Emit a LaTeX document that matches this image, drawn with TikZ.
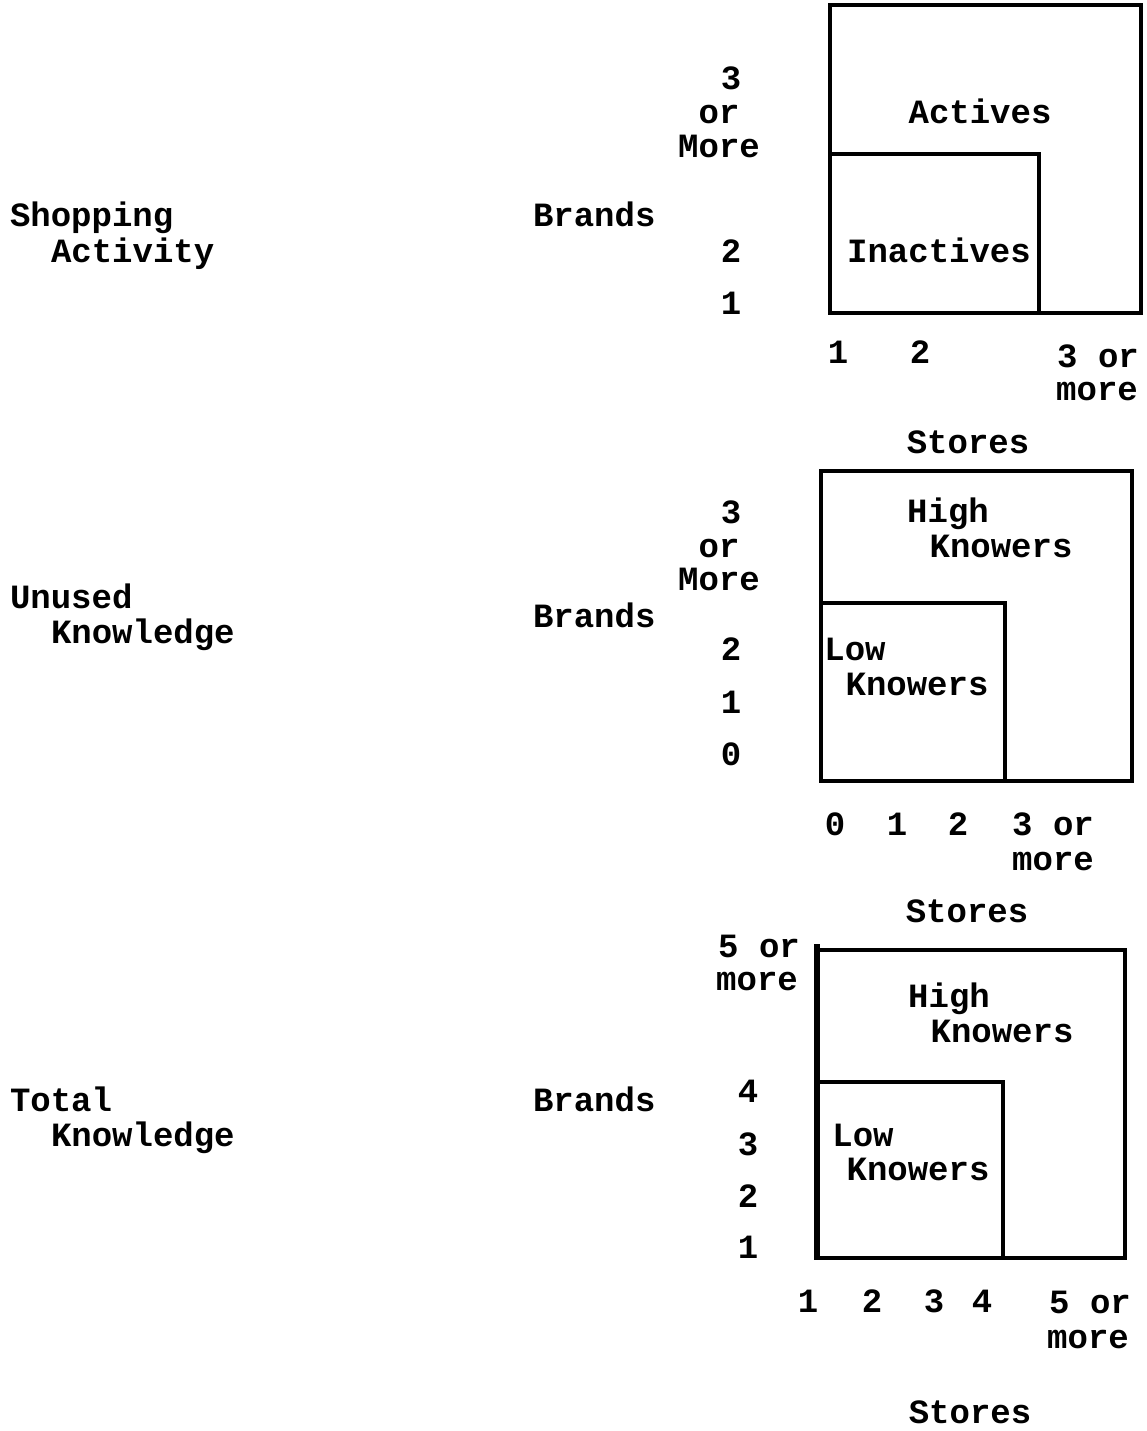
\documentclass[tikz,border=0pt]{standalone}
\usepackage{fontspec}
\setmainfont{Liberation Mono}
\begin{document}
\begin{tikzpicture}[x=1pt,y=-1pt,
  lbl/.style={inner sep=0pt, outer sep=0pt, anchor=base, font=\fontsize{34}{34}\selectfont\bfseries},
  lblw/.style={lbl, anchor=base west},
  boxline/.style={line width=3.5pt, line join=miter}]
\useasboundingbox (0,0) rectangle (1147,1431);

% ---------- Top: Shopping Activity ----------
\node[lblw] (sa1) at (10,227) {Shopping};
\node[lblw] (sa2) at (51,262) {Activity};
\node[lblw] (br1) at (533,227) {Brands};
\node[lbl] (t3) at (731,90) {3};
\node[lbl] (tor) at (719,124) {or};
\node[lbl] (tmore) at (719,158) {More};
\node[lbl] (t2) at (731,262) {2};
\node[lbl] (t1) at (731,314) {1};
\draw[boxline] (830,5) rectangle (1141,313);
\draw[boxline] (830,154) -- (1039,154) -- (1039,313);
\node[lbl] (act) at (980,124) {Actives};
\node[lbl] (inact) at (939,262) {Inactives};
\node[lbl] (sx1) at (838,363) {1};
\node[lbl] (sx2) at (920,363) {2};
\node[lbl] (sx3) at (1098,367) {3 or};
\node[lbl] (sx3m) at (1097,400) {more};
\node[lbl] (st1) at (968,453) {Stores};

% ---------- Middle: Unused Knowledge ----------
\node[lblw] (uk1) at (10,608) {Unused};
\node[lblw] (uk2) at (51,643) {Knowledge};
\node[lblw] (br2) at (533,627) {Brands};
\node[lbl] (m3) at (731,523) {3};
\node[lbl] (mor) at (719,557) {or};
\node[lbl] (mmore) at (719,590) {More};
\node[lbl] (m2) at (731,660) {2};
\node[lbl] (m1) at (731,713) {1};
\node[lbl] (m0) at (731,765) {0};
\draw[boxline] (821,471) rectangle (1132,781);
\draw[boxline] (821,603) -- (1005,603) -- (1005,781);
\node[lbl] (mh1) at (948,522) {High};
\node[lbl] (mh2) at (1001,557) {Knowers};
\node[lbl] (ml1) at (855,660) {Low};
\node[lbl] (ml2) at (917,695) {Knowers};
\node[lbl] (mx0) at (835,835) {0};
\node[lbl] (mx1) at (897,835) {1};
\node[lbl] (mx2) at (958,835) {2};
\node[lbl] (mx3) at (1053,835) {3 or};
\node[lbl] (mx3m) at (1053,870) {more};
\node[lbl] (st2) at (967,922) {Stores};

% ---------- Bottom: Total Knowledge ----------
\node[lblw] (tk1) at (10,1111) {Total};
\node[lblw] (tk2) at (51,1146) {Knowledge};
\node[lblw] (br3) at (533,1111) {Brands};
\node[lbl] (b5) at (759,957) {5 or};
\node[lbl] (b5m) at (757,990) {more};
\node[lbl] (b4) at (748,1102) {4};
\node[lbl] (b3) at (748,1155) {3};
\node[lbl] (b2) at (748,1207) {2};
\node[lbl] (b1) at (748,1258) {1};
\draw[boxline] (817,950) -- (1125,950) -- (1125,1258) -- (817,1258);
\draw[line width=5.5pt] (817,944) -- (817,1260);
\draw[boxline] (817,1082) -- (1003,1082) -- (1003,1258);
\node[lbl] (bh1) at (949,1007) {High};
\node[lbl] (bh2) at (1002,1042) {Knowers};
\node[lbl] (bl1) at (863,1146) {Low};
\node[lbl] (bl2) at (918,1180) {Knowers};
\node[lbl] (bx1) at (808,1312) {1};
\node[lbl] (bx2) at (872,1312) {2};
\node[lbl] (bx3) at (934,1312) {3};
\node[lbl] (bx4) at (982,1312) {4};
\node[lbl] (bx5) at (1090,1313) {5 or};
\node[lbl] (bx5m) at (1088,1348) {more};
\node[lbl] (st3) at (970,1423) {Stores};
\end{tikzpicture}
\end{document}
